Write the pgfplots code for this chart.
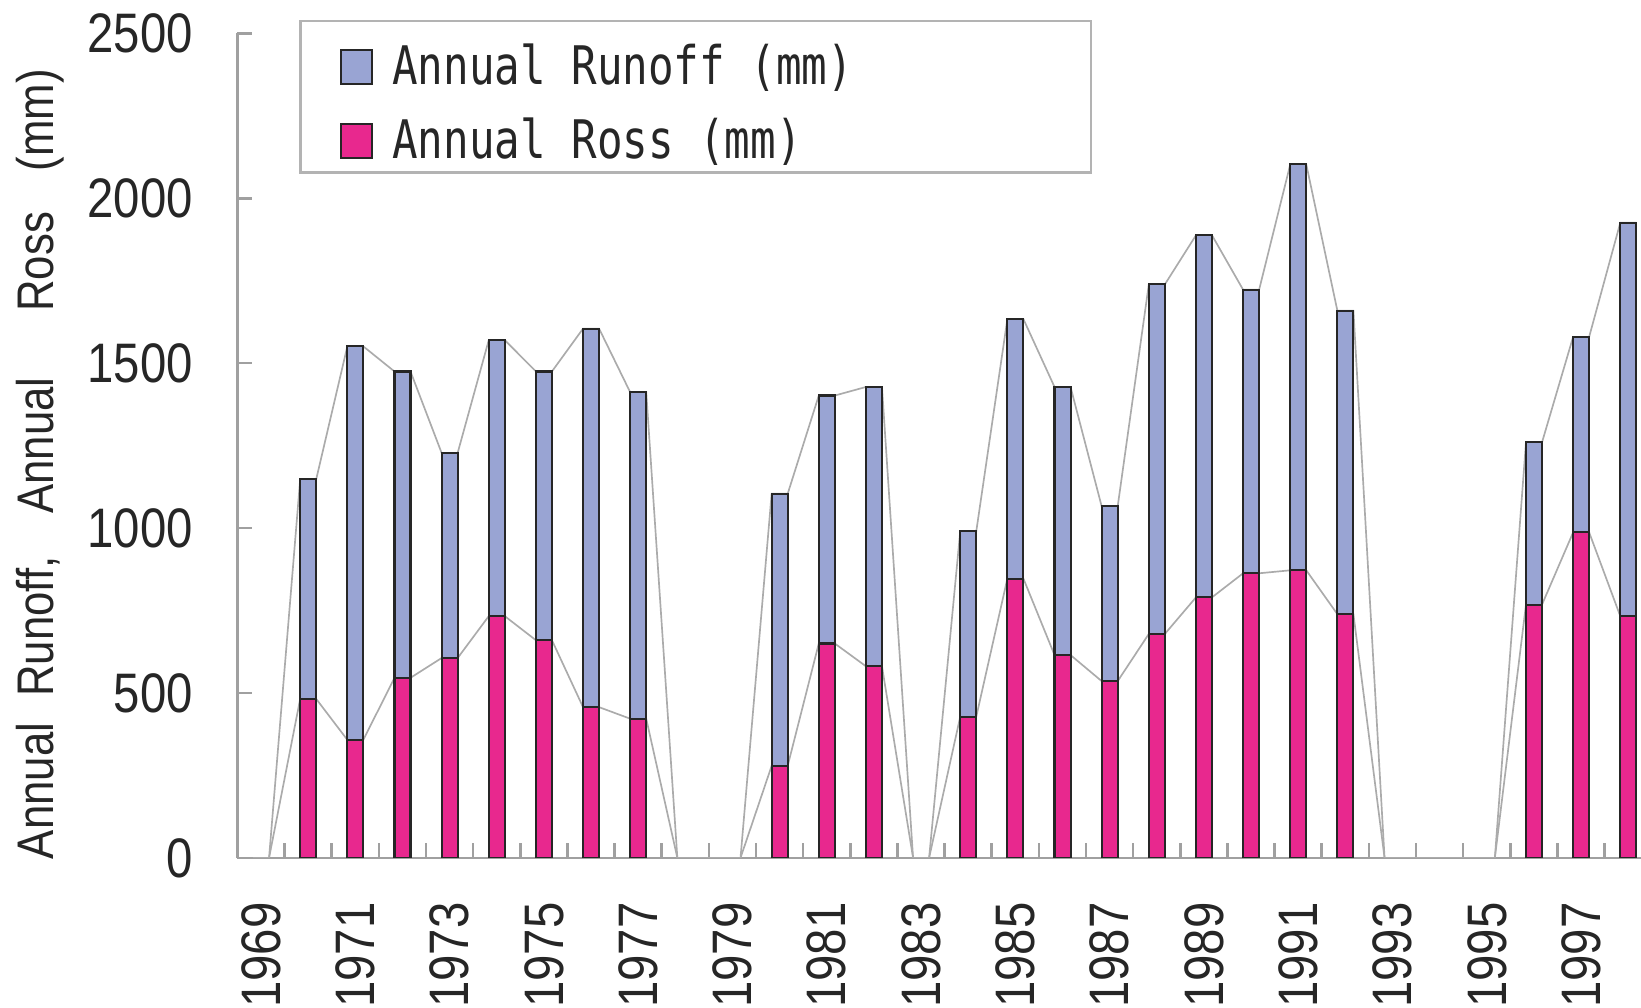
\documentclass[border=0pt]{standalone}
\usepackage{pgfplots}
\pgfplotsset{compat=1.18}
\usepackage{pgfplotstable}
\usepackage{fontspec}
\setmainfont{Liberation Sans}[FakeStretch=0.85]
\newfontfamily\legfont{DejaVu Sans Mono}[FakeStretch=0.8]
\definecolor{runoff}{HTML}{99A4D3}
\definecolor{rossc}{HTML}{E8288E}
\definecolor{axgray}{HTML}{A0A0A0}
\definecolor{sgray}{HTML}{ABABAB}

% year, annual ross (loss), annual runoff (stacked on top)
\pgfplotstableread{
year ross runoff
1970 482 666
1971 358 1193
1972 546 929
1973 606 622
1974 733 837
1975 660 815
1976 457 1148
1977 422 990
1980 279 825
1981 650 752
1982 581 847
1984 428 562
1985 847 787
1986 615 813
1987 536 530
1988 679 1060
1989 790 1098
1990 863 860
1991 872 1231
1992 739 920
1996 768 492
1997 987 593
1998 733 1193
}\bars

% series lines: bar edges (year -/+ half bar width), ross top and total top
\pgfplotstableread{
x ross total
1968.83 0 0
1969.17 0 0
1969.83 482 1148
1970.17 482 1148
1970.83 358 1551
1971.17 358 1551
1971.83 546 1475
1972.17 546 1475
1972.83 606 1228
1973.17 606 1228
1973.83 733 1570
1974.17 733 1570
1974.83 660 1475
1975.17 660 1475
1975.83 457 1605
1976.17 457 1605
1976.83 422 1412
1977.17 422 1412
1977.83 0 0
1978.17 0 0
1978.83 0 0
1979.17 0 0
1979.83 279 1104
1980.17 279 1104
1980.83 650 1402
1981.17 650 1402
1981.83 581 1428
1982.17 581 1428
1982.83 0 0
1983.17 0 0
1983.83 428 990
1984.17 428 990
1984.83 847 1634
1985.17 847 1634
1985.83 615 1428
1986.17 615 1428
1986.83 536 1066
1987.17 536 1066
1987.83 679 1739
1988.17 679 1739
1988.83 790 1888
1989.17 790 1888
1989.83 863 1723
1990.17 863 1723
1990.83 872 2103
1991.17 872 2103
1991.83 739 1659
1992.17 739 1659
1992.83 0 0
1993.17 0 0
1993.83 0 0
1994.17 0 0
1994.83 0 0
1995.17 0 0
1995.83 768 1260
1996.17 768 1260
1996.83 987 1580
1997.17 987 1580
1997.83 733 1926
1998.17 733 1926
}\slines

\begin{document}
\begin{tikzpicture}
\begin{axis}[
  at={(0,0)}, anchor=south west,
  scale only axis, width=335.4pt, height=197pt,
  xmin=1968.5, xmax=1998.27, ymin=0, ymax=2500,
  axis x line=bottom, axis y line=left,
  axis line style={draw=axgray, line width=0.6pt, -},
  xtick={1969,1971,1973,1975,1977,1979,1981,1983,1985,1987,1989,1991,1993,1995,1997},
  xticklabels={1969,1971,1973,1975,1977,1979,1981,1983,1985,1987,1989,1991,1993,1995,1997},
  minor xtick={1968.5,1969.5,...,1997.5},
  ytick={0,500,1000,1500,2000,2500},
  yticklabels={0,500,1000,1500,2000,2500},
  minor ytick={0,500,1000,1500,2000,2500},
  major tick length=0pt, minor tick length=3.5pt, tick align=inside,
  tick style={draw=axgray, line width=0.6pt},
  tick label style={font=\fontsize{13.3}{15}\selectfont, inner sep=0pt, text=black!85},
  /pgf/number format/assume math mode=true,
  /pgf/number format/1000 sep={},
  xticklabel style={rotate=90, anchor=east},
  xticklabel shift=10.5pt,
  yticklabel shift=10.5pt,
  legend style={at={(0.0730,1.0046)}, anchor=north west, draw=none, fill=none,
    inner sep=0pt, outer sep=0pt, row sep=0pt, column sep=4.5pt,
    font=\legfont\fontsize{12.7}{14}\selectfont,
    nodes={inner sep=0pt, minimum height=17.75pt, text=black!85}},
  legend cell align=left,
]
\addlegendimage{legend image code/.code={\draw[fill=runoff, draw=black!85, line width=0.5pt] (0pt,-4.1pt) rectangle (7.5pt,4.1pt);}}
\addlegendentry{Annual Runoff (mm)}
\addlegendimage{legend image code/.code={\draw[fill=rossc, draw=black!85, line width=0.5pt] (0pt,-4.1pt) rectangle (7.5pt,4.1pt);}}
\addlegendentry{Annual Ross (mm)}

\addplot[sgray, line width=0.4pt, forget plot] table[x=x, y=ross]{\slines};
\addplot[sgray, line width=0.4pt, forget plot] table[x=x, y=total]{\slines};

\addplot[ybar, bar width=0.34, bar shift=0pt, fill=runoff, draw=black!85, line width=0.5pt, forget plot]
  table[x=year, y expr=\thisrow{ross}+\thisrow{runoff}]{\bars};
\addplot[ybar, bar width=0.34, bar shift=0pt, fill=rossc, draw=black!85, line width=0.5pt, forget plot]
  table[x=year, y=ross]{\bars};
\end{axis}
\draw[axgray!80, line width=0.6pt] (15pt,163.75pt) rectangle (204pt,200pt);
\node[rotate=90, anchor=west, inner sep=0pt, text=black!85, font=\fontsize{12.3}{14}\selectfont]
  at (-47.25pt,-0.5pt) {Annual\hspace{6.25pt}Runoff,\hspace{10.25pt}Annual\hspace{15.7pt}Ross\hspace{9.75pt}(mm)};
\pgfresetboundingbox
\path (-56.75pt,-35.75pt) rectangle (335.4pt,205pt);
\end{tikzpicture}
\end{document}
